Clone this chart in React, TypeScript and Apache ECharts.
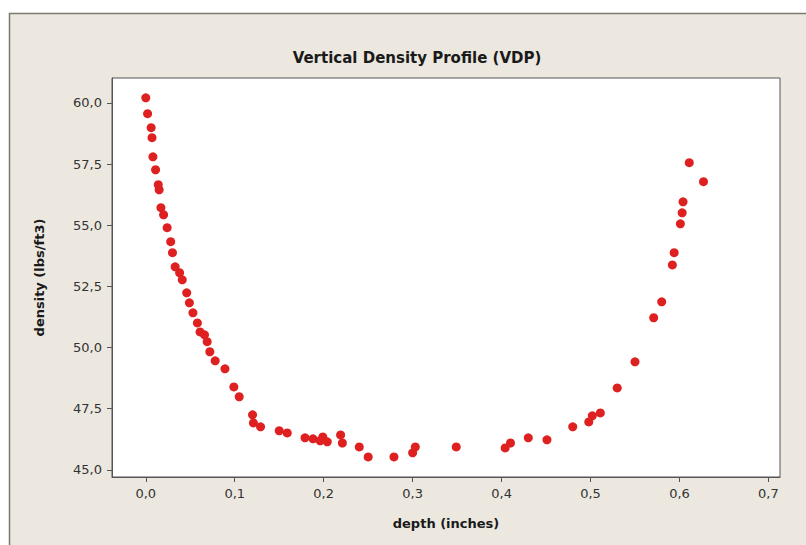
import React, { useEffect, useRef } from "react";
import * as echarts from "echarts";

const depth: number[] = [
  0.0, 0.002, 0.006, 0.007, 0.008, 0.011, 0.014, 0.015, 0.017, 0.02, 0.024, 0.028, 0.03, 0.033, 0.038,
  0.041, 0.046, 0.049, 0.053, 0.058, 0.061, 0.066, 0.069, 0.072, 0.078, 0.089, 0.099, 0.105, 0.12, 0.121,
  0.129, 0.15, 0.159, 0.179, 0.188, 0.199, 0.196, 0.204, 0.219, 0.221, 0.24, 0.25, 0.279, 0.3, 0.303,
  0.349, 0.404, 0.41, 0.43, 0.451, 0.48, 0.498, 0.502, 0.511, 0.53, 0.55, 0.571, 0.58, 0.592, 0.594,
  0.601, 0.603, 0.604, 0.611, 0.627,
];
const density: number[] = [
  60.21, 59.56, 58.99, 58.58, 57.8, 57.27, 56.66, 56.45, 55.72, 55.43, 54.9, 54.33, 53.88, 53.3, 53.06,
  52.77, 52.24, 51.83, 51.42, 51.01, 50.64, 50.52, 50.24, 49.83, 49.46, 49.13, 48.39, 47.99, 47.25, 46.92,
  46.76, 46.6, 46.51, 46.31, 46.27, 46.35, 46.19, 46.15, 46.43, 46.1, 45.94, 45.53, 45.53, 45.7, 45.94,
  45.94, 45.9, 46.1, 46.31, 46.23, 46.76, 46.96, 47.21, 47.33, 48.35, 49.42, 51.22, 51.87, 53.38, 53.88,
  55.06, 55.51, 55.96, 57.56, 56.78,
];
const xTicks: number[] = [0, 0.1, 0.2, 0.3, 0.4, 0.5, 0.6, 0.7];
const yTicks: number[] = [45, 47.5, 50, 52.5, 55, 57.5, 60];

const fmt = (v: number) => v.toFixed(1).replace(".", ",");

export default function App() {
  const ref = useRef<HTMLDivElement>(null);
  useEffect(() => {
    if (!ref.current) return;
    const chart = echarts.init(ref.current, null, { renderer: "svg" });
    const font = "DejaVu Sans";
    chart.setOption({
      animation: false,
      backgroundColor: "#ffffff",
      graphic: [
        {
          type: "rect",
          z: -10,
          silent: true,
          shape: { x: 9.5, y: 13.5, width: 820, height: 560 },
          style: { fill: "#ece8e0", stroke: "#7a7a72", lineWidth: 1.5 },
        },
      ],
      title: {
        text: "Vertical Density Profile (VDP)",
        left: 412,
        textAlign: "center",
        top: 45,
        textStyle: { fontFamily: font, fontWeight: "bold", fontSize: 15, color: "#1a1a1a" },
      },
      grid: {
        left: 112,
        top: 78,
        right: 26,
        bottom: 68,
        show: true,
        backgroundColor: "#ffffff",
        borderColor: "#555555",
        borderWidth: 1,
      },
      xAxis: {
        type: "value",
        min: -0.038,
        max: 0.713,
        name: "depth (inches)",
        nameLocation: "middle",
        nameGap: 40,
        nameTextStyle: { fontFamily: font, fontWeight: "bold", fontSize: 13, color: "#1a1a1a" },
        axisLine: { show: true, onZero: false, lineStyle: { color: "#555555" } },
        axisTick: { show: true, inside: false, length: 5, customValues: xTicks, lineStyle: { color: "#555555" } },
        axisLabel: {
          customValues: xTicks,
          formatter: (v: number) => fmt(v),
          fontFamily: font,
          fontSize: 13,
          color: "#333333",
          margin: 10,
        },
        splitLine: { show: false },
      },
      yAxis: {
        type: "value",
        min: 44.71,
        max: 61.02,
        name: "density (lbs/ft3)",
        nameLocation: "middle",
        nameGap: 66,
        nameTextStyle: { fontFamily: font, fontWeight: "bold", fontSize: 13, color: "#1a1a1a" },
        axisLine: { show: true, onZero: false, lineStyle: { color: "#555555" } },
        axisTick: { show: true, inside: false, length: 5, customValues: yTicks, lineStyle: { color: "#555555" } },
        axisLabel: {
          customValues: yTicks,
          formatter: (v: number) => fmt(v),
          fontFamily: font,
          fontSize: 13,
          color: "#333333",
          margin: 10,
        },
        splitLine: { show: false },
      },
      series: [
        {
          type: "scatter",
          data: depth.map((d, i) => [d, density[i]]),
          symbol: "circle",
          symbolSize: 9,
          itemStyle: { color: "#de2020", opacity: 1 },
        },
      ],
    });
    return () => chart.dispose();
  }, []);
  return (
    <div
      ref={ref}
      style={{ position: "absolute", left: 0, top: 0, width: 806, height: 545 }}
    />
  );
}
